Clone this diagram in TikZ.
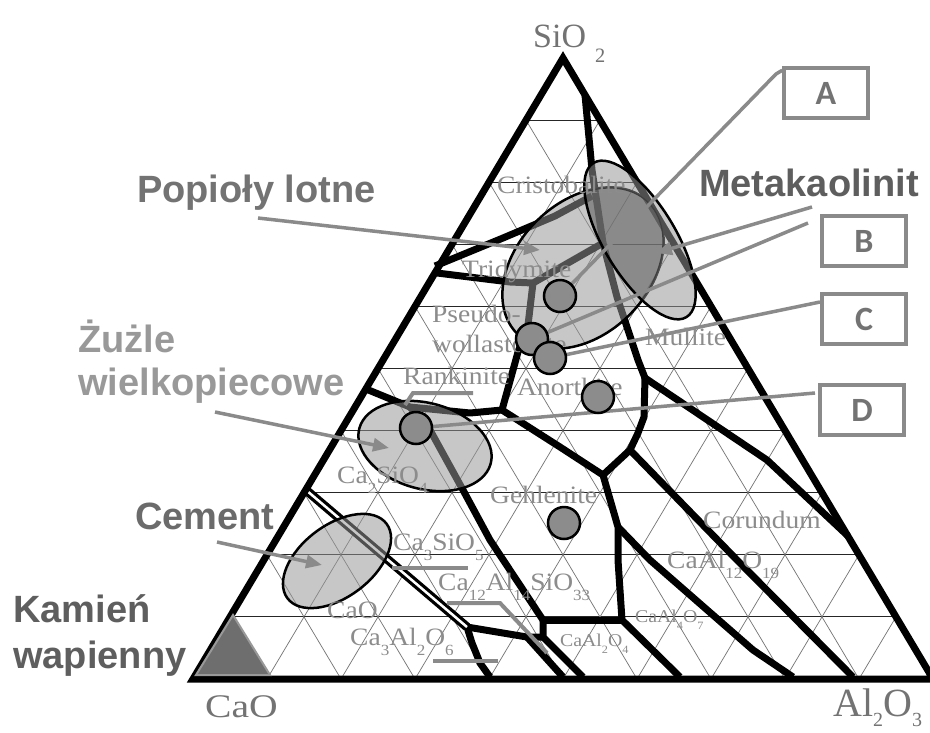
\documentclass[tikz,border=0pt]{standalone}
\usepackage{fontspec}
\setmainfont{Liberation Serif}
\newfontfamily\labsans{Liberation Sans}
\newfontfamily\boxfont{Carlito}
\usetikzlibrary{calc,arrows.meta}
\definecolor{leadgray}{HTML}{8A8A8A}
\definecolor{phasegray}{HTML}{8C8C8C}
\definecolor{dotgray}{HTML}{8C8C8C}
\definecolor{ellgray}{HTML}{979797}
\newcommand{\lsub}[1]{\raisebox{-0.42em}{\scalebox{0.62}{#1}}}
\newcommand{\asub}[1]{\raisebox{-0.27em}{\scalebox{0.5}{#1}}}
\newcommand{\pl}[1]{\scalebox{1.1}[1]{#1}}
\tikzset{
  hgrid/.style={draw=black!85, line width=0.9pt},
  dgrid/.style={draw=black!55, line width=0.7pt},
  phase/.style={draw=black, line width=7pt, line join=round},
  plab/.style={anchor=base west, inner sep=0pt, text=phasegray, font=\fontsize{25}{25}\selectfont},
  slab/.style={anchor=base west, inner sep=0pt, text=phasegray, font=\fontsize{18}{18}\selectfont},
  axlab/.style={anchor=base west, inner sep=0pt, text=black!55, font=\fontsize{34}{34}\selectfont},
  biglab/.style={anchor=base west, inner sep=0pt, font=\labsans\bfseries\fontsize{38}{43}\selectfont},
  lead/.style={draw=leadgray, line width=3.5pt},
  arr/.style={lead, -{Triangle[length=16pt,width=13pt]}},
  uline/.style={draw=leadgray, line width=4pt},
  ell/.style={fill=ellgray, fill opacity=0.53, draw=black, line width=2.5pt},
  dot/.style={circle, minimum size=32pt, inner sep=0pt, fill=dotgray, draw=black, line width=2.5pt},
  boxn/.style={draw=leadgray, line width=3.5pt, fill=white, minimum width=84pt, minimum height=50pt, inner sep=0pt, text=black!55, font=\boxfont\bfseries\fontsize{34}{34}\selectfont}
}
\begin{document}
\begin{tikzpicture}[x=1pt,y=-1pt]
\useasboundingbox (0,0) rectangle (930,732);
\fill[white] (0,0) rectangle (930,732);
\coordinate (A) at (193,679);
\coordinate (B) at (933,679);
\coordinate (C) at (563,58);
% grid
\foreach \k in {1,...,9} {
  \draw[dgrid] ($(A)!\k/10!(B)$) -- ($(B)!{1-\k/10}!(C)$);
  \draw[dgrid] ($(A)!\k/10!(B)$) -- ($(A)!\k/10!(C)$);
  \draw[hgrid] ($(A)!\k/10!(C)$) -- ($(B)!\k/10!(C)$);
}
% phase boundaries
\draw[phase] (435,266) -- (503,238) -- (555,216) -- (592,196);
\draw[phase] (585,95) -- (592,170) -- (603,243);
\draw[phase] (437,273) -- (510,282) -- (533,283) -- (603,243);
\draw[phase] (603,243) -- (617,297) -- (638,360) -- (645,378);
\draw[phase] (645,378) -- (767,460) -- (848,536);
\draw[phase] (645,378) -- (644,417) -- (638,433) -- (630,450) -- (603,475);
\draw[phase] (630,450) -- (737,560) -- (853,677);
\draw[phase] (533,283) -- (528,325) -- (518,352) -- (502,410);
\draw[phase] (366,389) -- (410,407) -- (470,413) -- (502,410);
\draw[phase] (502,410) -- (560,447) -- (603,475);
\draw[phase] (603,475) -- (618,527) -- (618,560) -- (622,620) -- (680,677);
\draw[phase] (618,527) -- (650,560) -- (753,650) -- (793,677);
\draw[phase] (410,407) -- (430,430) -- (463,490) -- (490,540) -- (543,620);
\draw[phase] (543,620) -- (622,620);
\draw[phase] (543,620) -- (543,637) -- (583,677);
\draw[phase] (543,637) -- (527,637) -- (467,627);
\draw[phase] (527,637) -- (563,677);
\draw[phase] (467,627) -- (472,643) -- (480,663) -- (490,677);
\draw[phase, line width=9pt] (306,490) -- (467,627);
\draw[white, line width=2.5pt] (306,490) -- (467,627);
% triangle
\draw[line width=7pt, line join=miter] (A) -- (B) -- (C) -- cycle;
% limestone triangle
\filldraw[fill=black!57, draw=black!40, line width=2pt] (196,675) -- (270,675) -- (233,615) -- cycle;
% ellipses
\path[ell] [rotate around={45:(583,268)}] (583,268) ellipse (93 and 66);
\path[ell] [rotate around={-59:(640,240)}] (640,240) ellipse (90 and 36);
\begin{scope}
  \clip [rotate around={45:(583,268)}] (583,268) ellipse (93 and 66);
  \fill[black, opacity=0.2] [rotate around={-59:(640,240)}] (640,240) ellipse (90 and 36);
\end{scope}
\path[ell] [rotate around={-15:(425,446)}] (425,446) ellipse (68 and 43);
\path[ell] [rotate around={37:(337,561)}] (337,561) ellipse (62 and 36);
% phase labels
\node[plab] (lcri) at (497,193) {\pl{Cristobalite}};
\node[plab] (ltri) at (462,277) {\pl{Tridymite}};
\node[plab] (lps1) at (432,322) {\pl{Pseudo-}};
\node[plab] (lps2) at (432,352) {\pl{wollastonite}};
\node[plab] (lmul) at (645,345) {\pl{Mullite}};
\node[plab] (lran) at (403,384) {\pl{Rankinite}};
\node[plab] (lano) at (517,395) {\pl{Anorthite}};
\node[plab] (lc2s) at (337,483) {\pl{Ca\lsub{2}SiO\lsub{4}}};
\node[plab] (lgeh) at (490,503) {\pl{Gehlenite}};
\node[plab] (lcor) at (703,528) {\pl{Corundum}};
\node[plab] (lca6) at (667,568) {\pl{CaAl\lsub{12}O\lsub{19}}};
\node[plab] (lc3s) at (393,550) {\pl{Ca\lsub{3}SiO\lsub{5}}};
\node[plab] (lc12) at (438,590) {\pl{Ca\lsub{12}Al\lsub{14}SiO\lsub{33}}};
\node[plab] (lcao) at (327,618) {\pl{CaO}};
\node[plab] (lc3a) at (350,645) {\pl{Ca\lsub{3}Al\lsub{2}O\lsub{6}}};
\node[slab] (lca1) at (560,646) {\pl{CaAl\lsub{2}O\lsub{4}}};
\node[slab] (lca2) at (635,622) {\pl{CaAl\lsub{4}O\lsub{7}}};
% label underlines
\draw[uline] (405,405) -- (413,393) -- (473,393);
\draw[uline] (392,568) -- (468,568);
\draw[uline] (447,603) -- (500,603) -- (547,653);
\draw[uline] (433,661) -- (498,661);
% corner labels
\node[axlab] (lsio) at (533,47) {SiO\hspace{9pt}\raisebox{-0.45em}{\scalebox{0.6}{2}}};
\node[axlab, font=\fontsize{33}{33}\selectfont] (lcaoc) at (205,717) {\scalebox{1.2}[1]{CaO}};
\node[axlab, font=\fontsize{40}{40}\selectfont] (lalo) at (833,716) {Al\asub{2}O\asub{3}};
% big labels
\node[biglab, text=black!55] (popl) at (137,202) {Popioły lotne};
\node[biglab, text=black!63] (meta) at (699,196) {Metakaolinit};
\node[biglab, text=black!40] (zuz1) at (78,352) {Żużle};
\node[biglab, text=black!40] (zuz2) at (78,395) {wielkopiecowe};
\node[biglab, text=black!58] (cem) at (135,529) {Cement};
\node[biglab, text=black!63] (kam1) at (13,622) {Kamień};
\node[biglab, text=black!63] (kam2) at (13,668) {wapienny};
% arrows
\coordinate (pa0) at (258,218); \coordinate (pa1) at (540,250);
\coordinate (ma0) at (812,207); \coordinate (ma1) at (656,253);
\coordinate (za0) at (215,412); \coordinate (za1) at (389,448);
\coordinate (ca0) at (217,542); \coordinate (ca1) at (322,565);
\draw[arr] (pa0) -- (pa1);
\draw[arr] (ma0) -- (ma1);
\draw[arr] (za0) -- (za1);
\draw[arr] (ca0) -- (ca1);
% boxes
\node[boxn] (bA) at (826,93) {A};
\node[boxn] (bB) at (864,241) {B};
\node[boxn] (bC) at (864,319) {C};
\node[boxn] (bD) at (862,410) {D};
% points
\coordinate (p1) at (560,296);
\coordinate (p2) at (532,339);
\coordinate (p3) at (550,358);
\coordinate (p4) at (598,397);
\coordinate (p5) at (416,428);
\coordinate (p6) at (564,523);
\coordinate (qA) at (776,74);
\coordinate (qB) at (808,223);
\coordinate (qC) at (820,302);
\coordinate (qD) at (815,393);
\draw[lead] (bA.north west) ++(0,4) -- (qA) -- (p1);
\draw[lead] (qB) -- (p2);
\draw[lead] (qC) -- (p3);
\draw[lead] (qD) -- (p5);
\node[dot] (d1) at (p1) {};
\node[dot] (d2) at (p2) {};
\node[dot] (d3) at (p3) {};
\node[dot] (d4) at (p4) {};
\node[dot] (d5) at (p5) {};
\node[dot] (d6) at (p6) {};
\end{tikzpicture}
\end{document}
